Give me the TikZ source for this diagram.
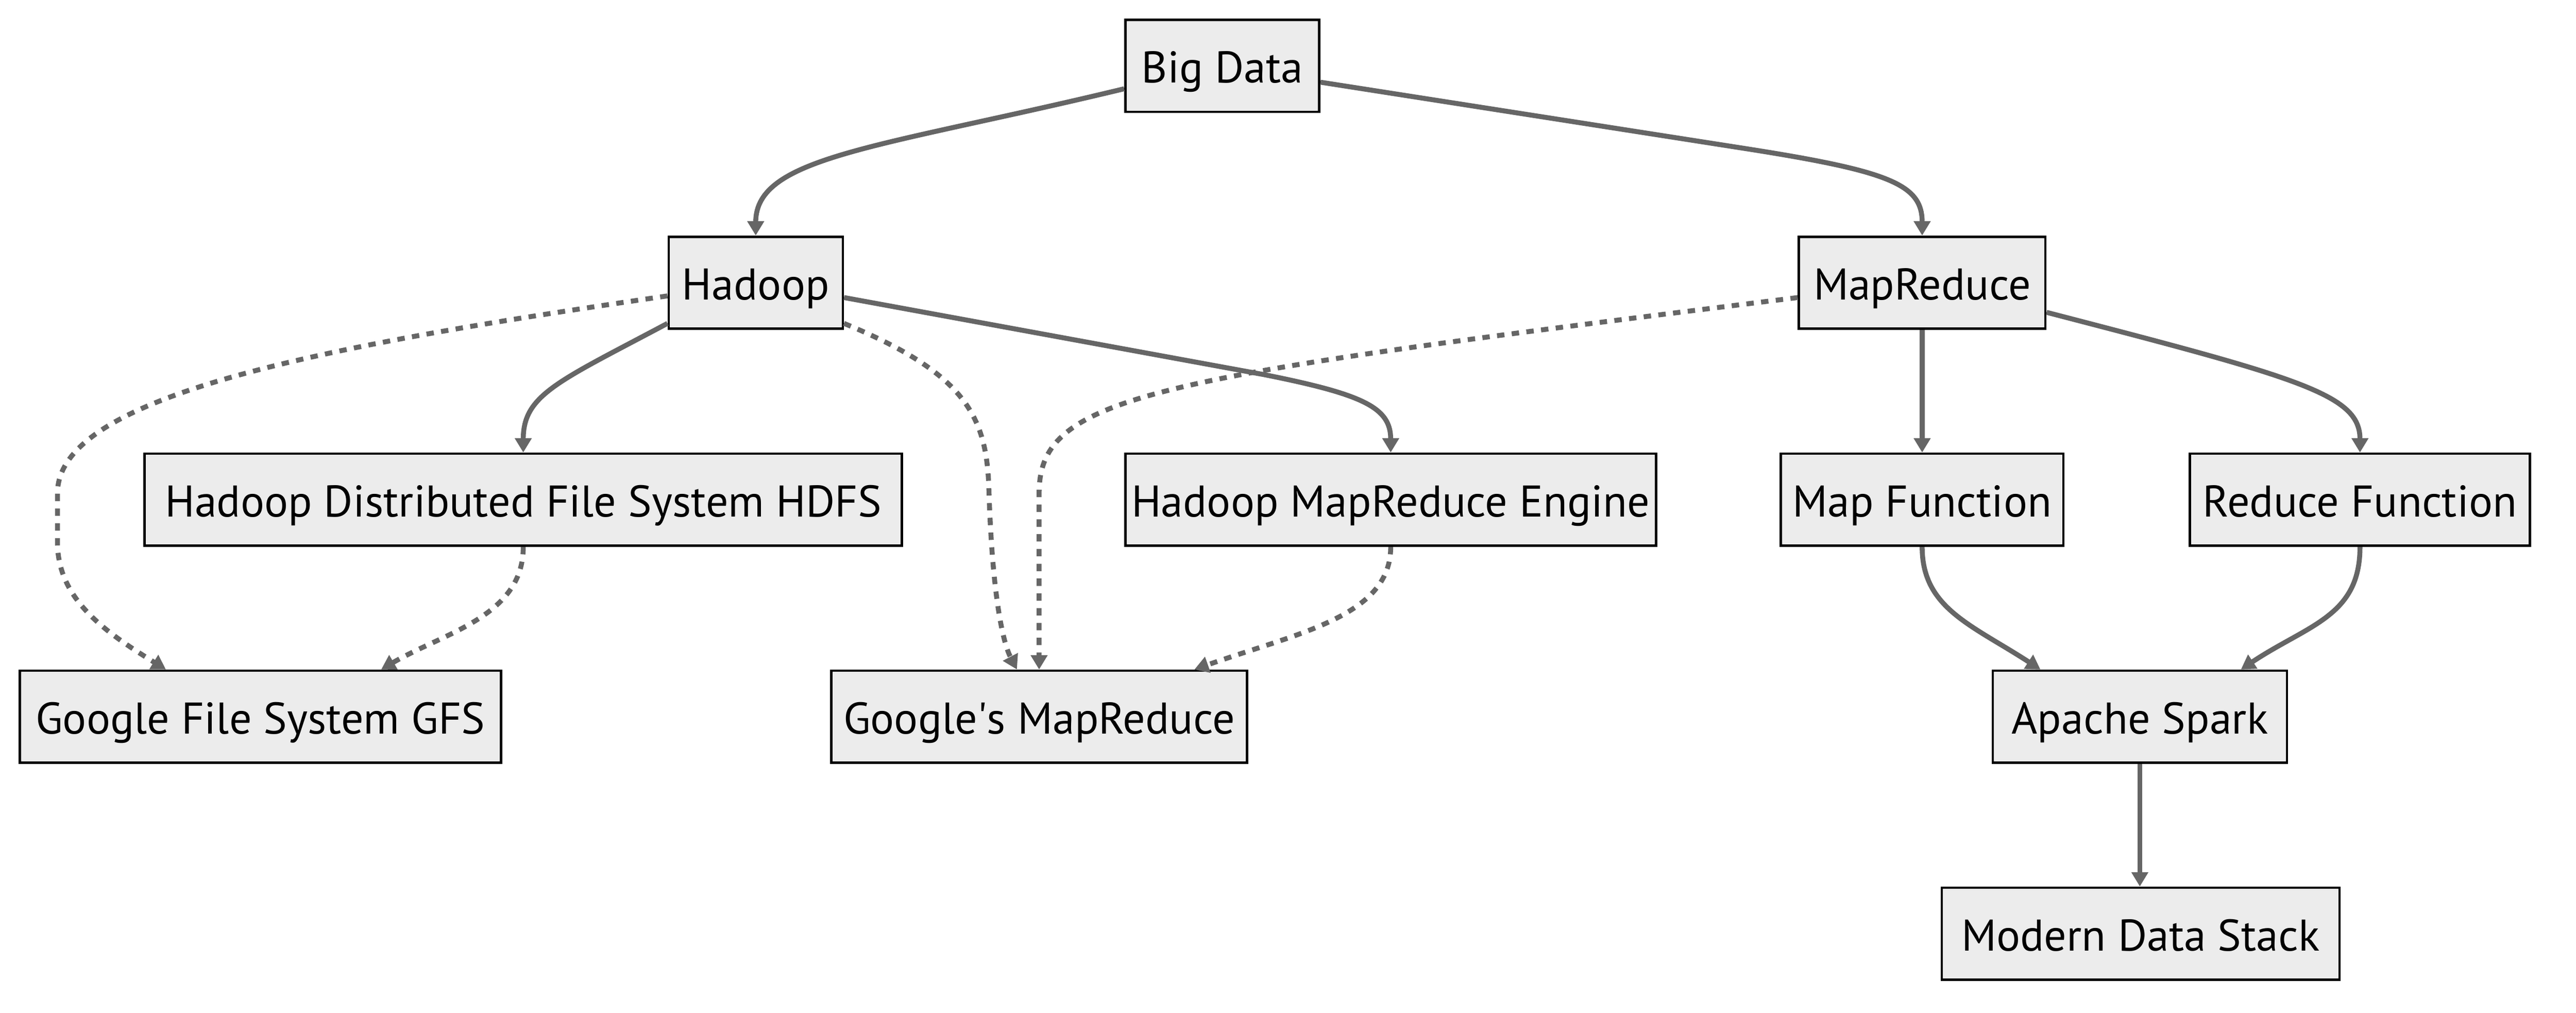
\documentclass[tikz,border=0pt]{standalone}
\usepackage{fontspec}
\setmainfont{PT Sans}
\usetikzlibrary{arrows.meta}
\definecolor{boxfill}{HTML}{ECECEC}
\definecolor{edgegray}{HTML}{666666}
\tikzset{
  box/.style={draw=black, line width=1.45pt, fill=boxfill, rectangle, minimum height=56pt, inner sep=0pt, text height=20.6pt, text depth=0pt, font=\fontsize{27}{32}\selectfont},
  link/.style={draw=edgegray, line width=3pt, -{Triangle[length=8.7pt,width=9.8pt]}},
  dotlink/.style={link, dash pattern=on 4.5pt off 4.5pt}
}
\begin{document}
\begin{tikzpicture}[x=1pt,y=-1pt]
\useasboundingbox (0,0) rectangle (1568,616);
% nodes
\node[box, minimum width=118pt] (bd) at (744,40) {Big Data};
\node[box, minimum width=106pt] (hadoop) at (460,172) {Hadoop};
\node[box, minimum width=150pt] (mr) at (1170,172) {MapReduce};
\node[box, minimum width=461pt] (hdfs) at (318.5,304) {Hadoop Distributed File System HDFS};
\node[box, minimum width=323pt] (engine) at (846.5,304) {Hadoop MapReduce Engine};
\node[box, minimum width=172pt] (mapf) at (1170,304) {Map Function};
\node[box, minimum width=207pt] (redf) at (1436.5,304) {Reduce Function};
\node[box, minimum width=293pt] (gfs) at (158.5,436) {Google File System GFS};
\node[box, minimum width=253pt] (gmr) at (632.5,436) {Google\textquotesingle s MapReduce};
\node[box, minimum width=179pt] (spark) at (1302.5,436) {Apache Spark};
\node[box, minimum width=242pt] (mds) at (1303,568) {Modern Data Stack};
% solid edges
\draw[link] ([yshift=-14pt]bd.west) .. controls (535,90) and (460,95) .. (hadoop.north);
\draw[link] ([yshift=-10pt]bd.east) -- (1060,90) .. controls (1150,104) and (1170,112) .. (mr.north);
\draw[link] ([yshift=4pt]hadoop.south west) .. controls (340,232) and (318.5,240) .. (hdfs.north);
\draw[link] ([yshift=-9pt]hadoop.east) -- (770,228) .. controls (830,240) and (846.5,248) .. (engine.north);
\draw[link] (mr.south) -- (mapf.north);
\draw[link] ([yshift=-18pt]mr.east) .. controls (1400,230) and (1436.5,240) .. (redf.north);
\draw[link] (mapf.south) .. controls (1170,370) and (1200,380) .. ([xshift=-60.5pt]spark.north);
\draw[link] (redf.south) .. controls (1436.5,375) and (1405,380) .. ([xshift=61.5pt]spark.north);
\draw[link] (spark.south) -- (spark.south |- mds.north);
% dotted edges
\draw[dotlink] ([yshift=-8pt]hadoop.west) .. controls (200,210) and (35,240) .. (35,300) -- (35,330) .. controls (35,365) and (65,385) .. ([xshift=-57.5pt]gfs.north);
\draw[dotlink] (hdfs.south) .. controls (318.5,375) and (270,385) .. ([xshift=73.5pt]gfs.north);
\draw[dotlink] ([yshift=4pt]hadoop.south east) .. controls (590,228) and (601,255) .. (602,300) .. controls (604,360) and (610,390) .. ([xshift=-13.5pt]gmr.north);
\draw[dotlink] ([yshift=-9pt]mr.west) .. controls (700,230) and (632.5,240) .. (632.5,300) -- (gmr.north);
\draw[dotlink] (engine.south) .. controls (846.5,375) and (790,385) .. ([xshift=94.5pt]gmr.north);
\end{tikzpicture}
\end{document}
